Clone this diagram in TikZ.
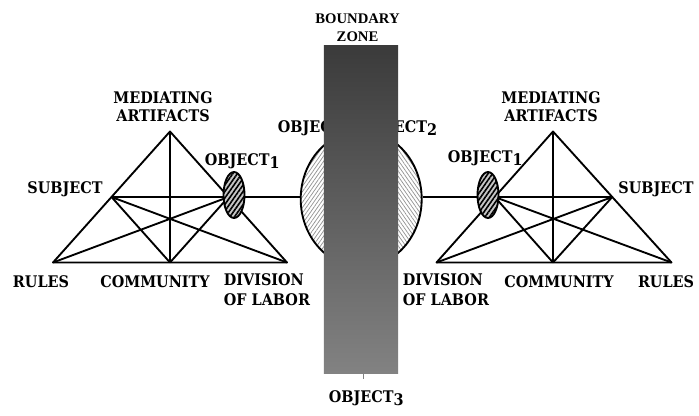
\documentclass[tikz,border=0pt]{standalone}
\usepackage{fontspec}
\setmainfont{DejaVu Serif}
\newfontfamily\tagfont{DejaVu Serif Condensed}
\newfontfamily\zonefont{Liberation Serif}
\usetikzlibrary{calc,shapes.geometric,patterns.meta}
\newcommand\idx[1]{\raisebox{-0.45ex}{#1}}

\tikzset{
  tag/.style={font=\tagfont\bfseries\fontsize{12}{13.5}\selectfont},
  tagwide/.style={font=\tagfont\bfseries\fontsize{12}{15}\selectfont, align=left},
  smallobj/.style={ellipse, draw, minimum width=15.75pt, minimum height=34.5pt,
    preaction={fill=gray!45},
    pattern={Lines[angle=55, distance=2.8pt, line width=1.2pt]}, pattern color=black},
  bigobj/.style={ellipse, draw, minimum width=90.75pt, minimum height=102pt}
}

\begin{document}
\begin{tikzpicture}[x=0.75pt, y=-0.75pt, line width=1.4pt,
  every node/.style={inner sep=0pt, align=center}]
  \useasboundingbox (0,0) rectangle (699,415);
  % shared object in the middle
  \node[bigobj, path picture={
      \fill[pattern={Lines[angle=55, distance=2.3pt, line width=0.55pt]}, pattern color=gray!85]
        (path picture bounding box.south west) rectangle (path picture bounding box.north);
      \fill[pattern={Lines[angle=-55, distance=2.3pt, line width=0.55pt]}, pattern color=gray!85]
        (path picture bounding box.south) rectangle (path picture bounding box.north east);
    }] (o2) at (361.2,199) {};
  % the two activity systems
  \foreach \s/\ax/\rx/\dx in {L/170/53/287, R/553/671.5/436.5} {
    \coordinate (art\s) at (\ax,131.5);
    \coordinate (rul\s) at (\rx,262.5);
    \coordinate (div\s) at (\dx,262.5);
    \coordinate (com\s) at (\ax,262.5);
    \coordinate (sub\s) at ($(art\s)!0.5!(rul\s)$);
    \coordinate (obj\s) at ($(art\s)!0.5!(div\s)$);
    \draw[line join=round] (art\s) -- (rul\s) -- (div\s) -- cycle;
    \draw (art\s) -- (com\s) (sub\s) -- (obj\s) (sub\s) -- (com\s)
      (sub\s) -- (div\s) (obj\s) -- (com\s) (obj\s) -- (rul\s);
  }
  \draw (objL) -- (objL -| o2.west);
  \draw (objR) -- (objR -| o2.east);
  \node[tag, anchor=base west] (o2labL) at (277,132) {OBJECT\idx{2}};
  \node[tag, anchor=base east] (o2labR) at (438,132) {OBJECT\idx{2}};
  % boundary zone
  \node[minimum width=55.7pt, minimum height=245.7pt, top color=black!77,
    bottom color=black!49] (zone) at (361,209.5) {};
  \draw[gray, line width=0.5pt] ([xshift=2pt]zone.south) -- ++(0,5);
  \node[font=\zonefont\bfseries\fontsize{11}{13.5}\selectfont, anchor=south]
    (zonelab) at (357.5,43) {BOUNDARY\\ZONE};
  \node[tag, anchor=base west] (o3lab) at (328,402) {OBJECT\idx{3}};
  % objects of each system
  \node[smallobj] (o1L) at (234,195) {};
  \node[smallobj] (o1R) at (488,195) {};
  % left labels
  \node[tag, anchor=south] (artlabL) at (163,123) {MEDIATING\\ARTIFACTS};
  \node[tag, anchor=base] (sublabL) at (65,193) {SUBJECT};
  \node[tag, anchor=base west] (o1labL) at (204,165) {OBJECT\idx{1}};
  \node[tag, anchor=base] (rullabL) at (41,287) {RULES};
  \node[tag, anchor=base] (comlabL) at (155,287) {COMMUNITY};
  \node[tagwide, anchor=south west] (divlabL) at (223,307) {DIVISION\\OF LABOR};
  % right labels
  \node[tag, anchor=south] (artlabR) at (551,123) {MEDIATING\\ARTIFACTS};
  \node[tag, anchor=base] (sublabR) at (656,193) {SUBJECT};
  \node[tag, anchor=base west] (o1labR) at (447,162) {OBJECT\idx{1}};
  \node[tag, anchor=base] (rullabR) at (666,287) {RULES};
  \node[tag, anchor=base] (comlabR) at (559,287) {COMMUNITY};
  \node[tagwide, anchor=south west] (divlabR) at (402,307) {DIVISION\\OF LABOR};
\end{tikzpicture}
\end{document}
